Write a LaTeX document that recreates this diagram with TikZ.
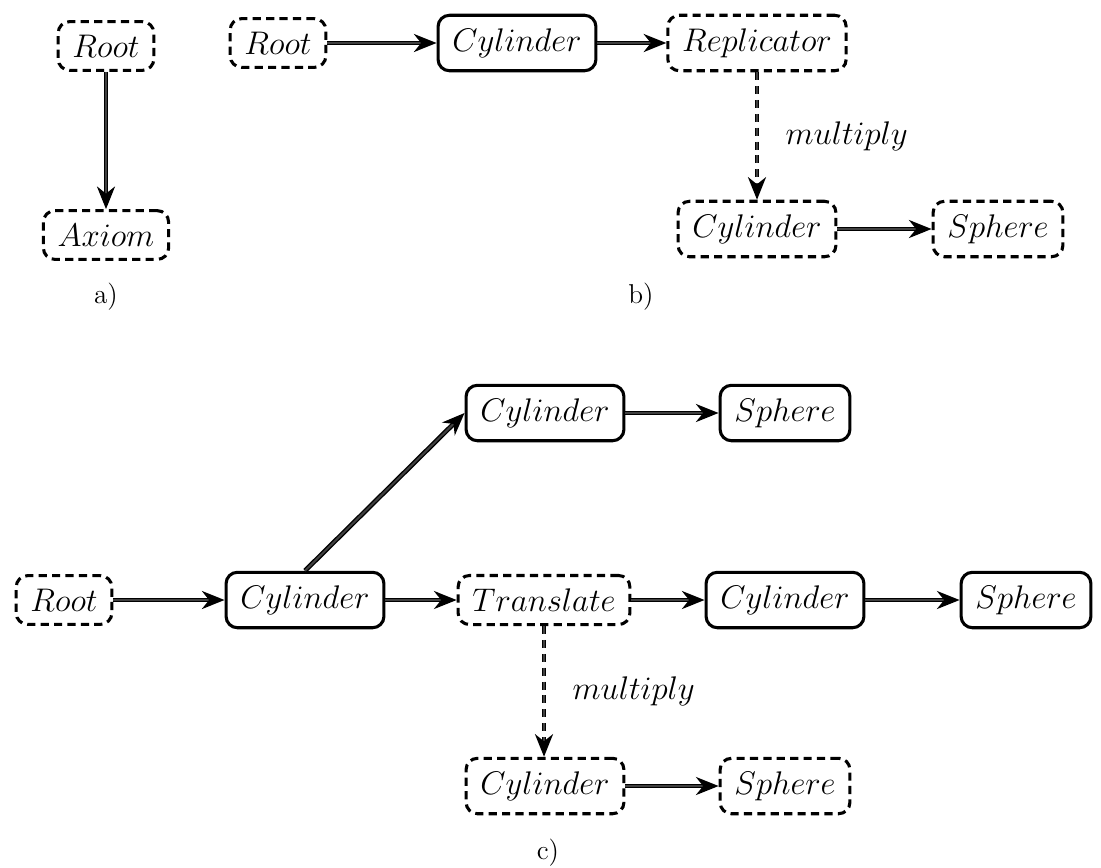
\documentclass[tikz,border=0pt]{standalone}
\usepackage{tikz}
\usetikzlibrary{arrows.meta}

\begin{document}
\begin{tikzpicture}[x=0.44pt,y=-0.44pt,
   solidbox/.style={draw,line width=1.35pt,rounded corners=5pt,
      inner xsep=6.3pt,inner ysep=5.8pt,font=\Large},
   dashbox/.style={solidbox,dash pattern=on 3.6pt off 2.3pt},
   link/.style={line width=0.6pt,double=darkgray,double distance=0.9pt,
      -{Stealth[length=10pt,width=8pt,inset=3.2pt,line width=0.8pt,fill=black,color=black]}},
   dashlink/.style={link,dash pattern=on 3.5pt off 2.6pt},
   caption/.style={font=\large}]
\useasboundingbox (0,0) rectangle (1101,867);
% a)
\node[dashbox] (aroot) at (106,46) {$Root$};
\node[dashbox] (aaxiom) at (106,235) {$Axiom$};
\node[caption] (acap) at (106,297) {a)};
\draw[link] (aroot) -- (aaxiom);
% b)
\node[dashbox] (broot) at (278,43) {$Root$};
\node[solidbox] (bcyl) at (517,43) {$Cylinder$};
\node[dashbox] (brep) at (757,43) {$Replicator$};
\node[dashbox] (bcyltwo) at (757,229) {$Cylinder$};
\node[dashbox] (bsph) at (998,229) {$Sphere$};
\node[caption] (bcap) at (641,297) {b)};
\draw[link] (broot) -- (bcyl);
\draw[link] (bcyl) -- (brep);
\draw[dashlink] (brep) -- node[midway,right=9pt] {\Large$multiply$} (bcyltwo);
\draw[link] (bcyltwo) -- (bsph);
% c)
\node[dashbox] (croot) at (64,600) {$Root$};
\node[solidbox] (ccyl) at (305,600) {$Cylinder$};
\node[solidbox] (ctcyl) at (545,413) {$Cylinder$};
\node[solidbox] (ctsph) at (785,413) {$Sphere$};
\node[dashbox] (ctrans) at (544,600) {$Translate$};
\node[solidbox] (cmcyl) at (785,600) {$Cylinder$};
\node[solidbox] (cmsph) at (1026,600) {$Sphere$};
\node[dashbox] (cbcyl) at (545,786) {$Cylinder$};
\node[dashbox] (cbsph) at (785,786) {$Sphere$};
\node[caption] (ccap) at (548,853) {c)};
\draw[link] (croot) -- (ccyl);
\draw[link] (ccyl.north) -- (ctcyl.west);
\draw[link] (ctcyl) -- (ctsph);
\draw[link] (ccyl) -- (ctrans);
\draw[link] (ctrans) -- (cmcyl);
\draw[link] (cmcyl) -- (cmsph);
\draw[dashlink] (ctrans.south) -- node[midway,right=9pt] {\Large$multiply$} (ctrans.south |- cbcyl.north);
\draw[link] (cbcyl) -- (cbsph);
\end{tikzpicture}
\end{document}
